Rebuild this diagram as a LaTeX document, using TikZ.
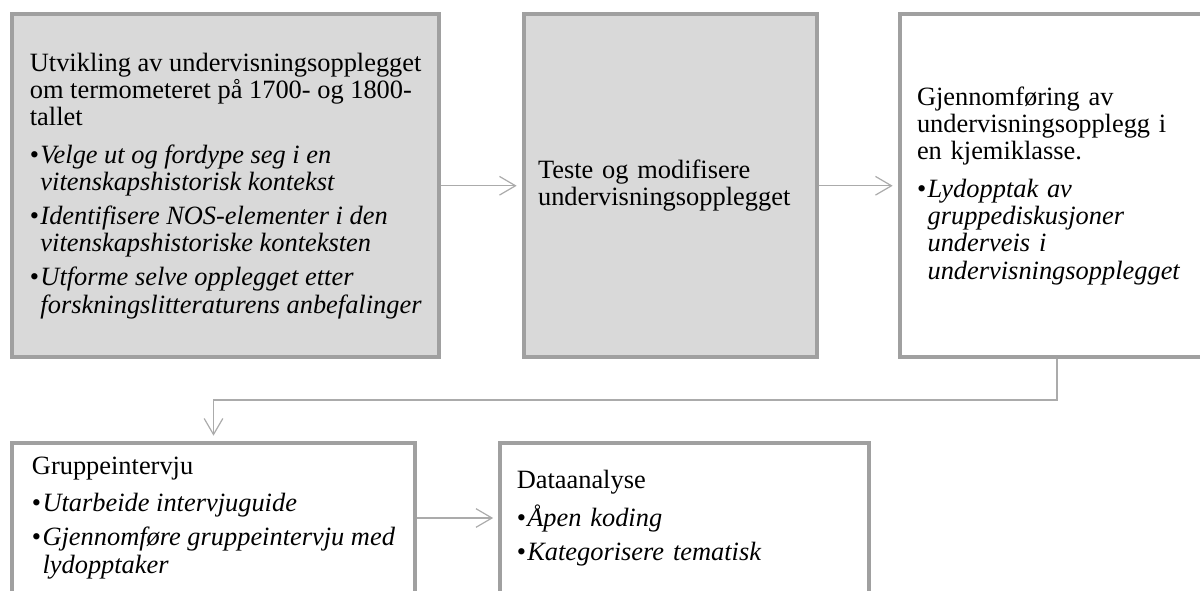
\documentclass[tikz,border=0pt]{standalone}
\usepackage{fontspec}
\setmainfont{Liberation Serif}
\usetikzlibrary{arrows.meta,calc}
\definecolor{rammegraa}{HTML}{A0A0A0}
\definecolor{fyllgraa}{HTML}{D9D9D9}
\definecolor{linjegraa}{HTML}{ABABAB}
\tikzset{
    boks/.style = {draw=rammegraa, rectangle, line width=3pt,
        align=left, inner xsep=11pt,
        font=\fontsize{19.8}{20.5}\selectfont},
    graaboks/.style = {boks, fill=fyllgraa},
    pil/.style = {draw=linjegraa, line width=0.9pt,
        -{Straight Barb[length=12pt,width=14pt]}, shorten >=4pt}
}
\newcommand{\punkt}[1]{\textbullet\hspace{1pt}\textit{#1}}
\newcommand{\videre}[1]{\hphantom{\textbullet\hspace{1pt}}\textit{#1}}

\begin{document}
\begin{tikzpicture}[x=0.75pt,y=-0.75pt]
    \useasboundingbox (0,0) rectangle (1200,590);
    \clip (0,0) rectangle (1200,590);
    % top row
    \node [graaboks, minimum width=320.6pt, minimum height=257.6pt] (entw) at (225.75,185.75)
        {Utvikling av undervisningsopplegget\\
         om termometeret på 1700- og 1800-\\
         tallet\\[7.5pt]
         \punkt{Velge ut og fordype seg i en}\\
         \videre{vitenskapshistorisk kontekst}\\[5pt]
         \punkt{Identifisere NOS-elementer i den}\\
         \videre{vitenskapshistoriske konteksten}\\[5pt]
         \punkt{Utforme selve opplegget etter}\\
         \videre{forskningslitteraturens anbefalinger}};
    \node [graaboks, minimum width=220.1pt, minimum height=257.6pt,
        text width=199pt, inner xsep=10.5pt] (test) at (670.75,185.75)
        {Teste og modifisere\\ undervisningsopplegget};
    \node [boks, minimum width=235.5pt, minimum height=257.6pt,
        text width=210pt, inner xsep=12.75pt] (gjen) at (1057,185.75)
        {Gjennomføring av\\
         undervisningsopplegg i\\
         en kjemiklasse.\\[7.5pt]
         \punkt{Lydopptak av}\\
         \videre{gruppediskusjoner}\\
         \videre{underveis i}\\
         \videre{undervisningsopplegget}};
    % bottom row
    \node [boks, minimum width=302.25pt, minimum height=112.5pt] (intv) at (213.5,518)
        {Gruppeintervju\\[7.5pt]
         \punkt{Utarbeide intervjuguide}\\[5pt]
         \punkt{Gjennomføre gruppeintervju med}\\
         \videre{lydopptaker}};
    \node [boks, minimum width=276.4pt, minimum height=112.5pt,
        text width=252pt, inner xsep=12pt] (anal) at (684.75,518)
        {Dataanalyse\\[7.5pt]
         \punkt{Åpen koding}\\[5pt]
         \punkt{Kategorisere tematisk}};
    \coordinate (knekk) at (1057,400);
    % connectors
    \draw [pil] (entw) -- (test);
    \draw [pil] (test) -- (gjen);
    \draw [pil] (gjen.south) -- (knekk) -| (intv.north);
    \draw [pil] (intv) -- (anal);
\end{tikzpicture}
\end{document}
